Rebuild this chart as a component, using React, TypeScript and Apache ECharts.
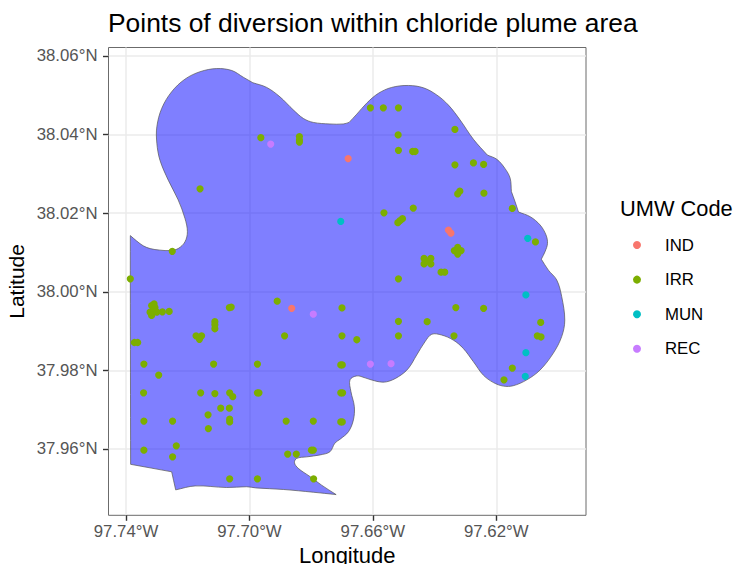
import React, { useEffect, useRef } from "react";
import * as echarts from "echarts";

const titleText = "Points of diversion within chloride plume area";
const xName = "Longitude";
const yName = "Latitude";
const legendTitle = "UMW Code";
const codes = ["IND", "IRR", "MUN", "REC"];
const colors = ["#F8766D", "#7CAE00", "#00BFC4", "#C77CFF"];
const lonTicks = [-97.74, -97.7, -97.66, -97.62];
const latTicks = [37.96, 37.98, 38.0, 38.02, 38.04, 38.06];
const lonRange = [-97.74567, -97.59092];
const latRange = [37.94313, 38.06216];

const plume: number[][] = [
  [-97.7386,38.0143],[-97.7386,38.0143],[-97.7365,38.0129],[-97.7344,38.0117],[-97.7322,38.011],[-97.729,38.0106],[-97.7257,38.0105],[-97.7231,38.011],[-97.7209,38.0127],[-97.7201,38.0153],[-97.7209,38.0187],[-97.7231,38.0234],[-97.7263,38.0284],[-97.729,38.0335],[-97.73,38.0378],[-97.73,38.042],[-97.7284,38.0467],[-97.7252,38.0509],[-97.7209,38.0541],[-97.716,38.056],[-97.7106,38.0568],[-97.7057,38.0563],[-97.702,38.0546],[-97.6989,38.0532],[-97.6989,38.0532],[-97.6944,38.052],[-97.6901,38.0496],[-97.6858,38.0463],[-97.6825,38.0441],[-97.6793,38.0431],[-97.6739,38.0427],[-97.6696,38.0427],[-97.6677,38.0431],[-97.6677,38.0431],[-97.6652,38.0452],[-97.662,38.048],[-97.6582,38.0505],[-97.6539,38.052],[-97.6485,38.0525],[-97.6436,38.0519],[-97.6393,38.0501],[-97.6355,38.0475],[-97.6317,38.0437],[-97.6274,38.0388],[-97.6229,38.0348],[-97.6229,38.0348],[-97.6198,38.0337],[-97.6172,38.0314],[-97.6155,38.0289],[-97.6151,38.0255],[-97.6151,38.0255],[-97.6139,38.0229],[-97.6128,38.0203],[-97.6128,38.0203],[-97.609,38.0191],[-97.6058,38.017],[-97.6039,38.0145],[-97.6034,38.0123],[-97.6042,38.0102],[-97.6054,38.0083],[-97.6054,38.0083],[-97.6031,38.0055],[-97.6004,38.003],[-97.5988,37.9988],[-97.5978,37.9928],[-97.5988,37.9886],[-97.6015,37.9844],[-97.6058,37.9801],[-97.6101,37.9776],[-97.6145,37.9761],[-97.6177,37.976],[-97.6209,37.9769],[-97.6242,37.9788],[-97.6274,37.9822],[-97.6307,37.9856],[-97.6339,37.9877],[-97.6377,37.989],[-97.6409,37.9892],[-97.6431,37.9873],[-97.6458,37.9839],[-97.6485,37.9805],[-97.6517,37.9784],[-97.6555,37.9771],[-97.6587,37.9772],[-97.6625,37.9781],[-97.6652,37.9786],[-97.6674,37.9776],[-97.6671,37.9746],[-97.666,37.9708],[-97.6663,37.9674],[-97.6679,37.9644],[-97.6706,37.9625],[-97.6723,37.9615],[-97.6739,37.9593],[-97.6771,37.9585],[-97.6814,37.958],[-97.6847,37.9576],[-97.6854,37.9565],[-97.6842,37.9551],[-97.6804,37.953],[-97.6766,37.9508],[-97.6719,37.9484],[-97.6719,37.9484],[-97.6793,37.949],[-97.689,37.9497],[-97.6979,37.9501],[-97.7009,37.9504],[-97.7074,37.9502],[-97.7176,37.9506],[-97.7239,37.9496],[-97.7239,37.9496],[-97.7252,37.9542],[-97.7252,37.9542],[-97.7385,37.9561],[-97.7385,37.9561],[-97.7386,38.003],[-97.7386,38.0127],[-97.7386,38.0143],
];

const ind: number[][] = [[-97.668,38.0339],[-97.6355,38.0157],[-97.6347,38.0149],[-97.6863,37.9958]];
const mun: number[][] = [[-97.6704,38.0179],[-97.6098,38.0136],[-97.6104,37.9992],[-97.6104,37.9845],[-97.6106,37.9785]];
const rec: number[][] = [[-97.6931,38.0376],[-97.6793,37.9943],[-97.6608,37.9816],[-97.6541,37.9817]];
const irr: number[][] = [
  [-97.7386,38.0033],[-97.725,38.0103],[-97.716,38.0262],[-97.6963,38.0392],[-97.6838,38.0395],[-97.6838,38.0386],[-97.6838,38.0381],[-97.6608,38.0468],[-97.6566,38.0468],[-97.6517,38.0468],[-97.6518,38.0399],[-97.6334,38.0413],[-97.6517,38.036],[-97.6471,38.0357],[-97.6463,38.0357],[-97.6334,38.0323],[-97.6274,38.0328],[-97.6241,38.0324],[-97.6318,38.0256],[-97.6325,38.0249],[-97.624,38.0251],[-97.6148,38.0212],[-97.6469,38.0213],[-97.6564,38.0201],[-97.6504,38.0186],[-97.6512,38.0181],[-97.6519,38.0176],[-97.6073,38.0127],[-97.6325,38.0113],[-97.6336,38.0105],[-97.6314,38.0105],[-97.6325,38.0096],[-97.6434,38.0085],[-97.6412,38.0085],[-97.6434,38.0071],[-97.6412,38.0071],[-97.6423,38.0078],[-97.6379,38.005],[-97.6367,38.005],[-97.6517,38.0033],
  [-97.7309,37.9969],[-97.7317,37.9965],[-97.7306,37.996],[-97.7322,37.9948],[-97.7313,37.9948],[-97.7317,37.994],[-97.73,37.9948],[-97.7282,37.9949],[-97.726,37.995],[-97.7065,37.996],[-97.7059,37.9961],[-97.691,37.9976],[-97.67,37.9959],[-97.7112,37.9924],[-97.7112,37.9916],[-97.7112,37.9906],[-97.7173,37.9888],[-97.7155,37.9888],[-97.7162,37.9879],[-97.7373,37.9871],[-97.7362,37.9871],[-97.6886,37.9888],[-97.67,37.9888],[-97.7342,37.9816],[-97.7116,37.9816],[-97.6974,37.9816],[-97.6704,37.9814],[-97.6699,37.9814],[-97.7294,37.9788],[-97.7343,37.9743],[-97.7158,37.9743],[-97.7112,37.9741],[-97.7064,37.9743],[-97.7054,37.9733],[-97.6974,37.9743],[-97.6969,37.9743],[-97.6704,37.9743],[-97.6698,37.9743],[-97.7093,37.9704],[-97.7065,37.9704],[-97.7134,37.9687],[-97.7342,37.9671],[-97.7249,37.9671],[-97.7064,37.9676],[-97.7064,37.9669],[-97.6881,37.9671],[-97.6793,37.9671],[-97.6704,37.9669],[-97.6699,37.9669],[-97.7133,37.9652],[-97.7237,37.9608],[-97.7342,37.9597],[-97.7249,37.958],[-97.6876,37.9587],[-97.6848,37.9587],[-97.6799,37.9597],[-97.6793,37.9597],[-97.7064,37.9524],[-97.6974,37.9524],[-97.6792,37.9524],
  [-97.6331,37.996],[-97.6241,37.9958],[-97.6517,37.9925],[-97.6424,37.9924],[-97.6056,37.9922],[-97.6517,37.9888],[-97.6337,37.9888],[-97.6067,37.9888],[-97.6055,37.9885],[-97.6652,37.9878],[-97.6148,37.9806],[-97.6175,37.9776],
];
const groups = [ind, irr, mun, rec];

const FONT = "'Liberation Sans', Arial, sans-serif";

export default function App() {
  const ref = useRef<HTMLDivElement>(null);
  useEffect(() => {
    document.body.style.margin = "0";
    const chart = echarts.init(ref.current!, undefined, { renderer: "svg" });
    chart.setOption({
      animation: false,
      backgroundColor: "#fff",
      textStyle: { fontFamily: FONT },
      title: [
        { text: titleText, left: 103, top: 5, textStyle: { fontFamily: FONT, fontSize: 26.4, fontWeight: "normal", color: "#000" } },
        { text: legendTitle, left: 615, top: 192, textStyle: { fontFamily: FONT, fontSize: 21.8, fontWeight: "normal", color: "#000" } },
      ],
      grid: { left: 108.5, top: 47.5, width: 477.5, height: 467.8, show: true, borderColor: "#6b6b6b", borderWidth: 1, backgroundColor: "transparent", outerBoundsMode: "none" },
      xAxis: {
        type: "value",
        min: lonRange[0],
        max: lonRange[1],
        name: xName,
        nameLocation: "middle",
        nameGap: 29,
        nameMoveOverlap: false,
        nameTextStyle: { fontFamily: FONT, fontSize: 22, color: "#000" },
        axisLine: { show: false },
        axisTick: { show: true, length: 5.5, customValues: lonTicks, lineStyle: { color: "#333", width: 1.4 } },
        axisLabel: { customValues: lonTicks, margin: 8, fontFamily: FONT, fontSize: 16.8, color: "#555", formatter: (v: number) => Math.abs(v).toFixed(2) + "°W" },
        splitLine: { show: true, lineStyle: { color: "#EBEBEB", width: 1.5 } },
      },
      yAxis: {
        type: "value",
        min: latRange[0],
        max: latRange[1],
        name: yName,
        nameLocation: "middle",
        nameGap: 82,
        nameMoveOverlap: false,
        nameTextStyle: { fontFamily: FONT, fontSize: 21, color: "#000" },
        axisLine: { show: false },
        axisTick: { show: true, length: 5.5, customValues: latTicks, lineStyle: { color: "#333", width: 1.4 } },
        axisLabel: { customValues: latTicks, margin: 11, fontFamily: FONT, fontSize: 16.8, color: "#555", formatter: (v: number) => v.toFixed(2) + "°N" },
        splitLine: { show: true, lineStyle: { color: "#EBEBEB", width: 1.5 } },
      },
      legend: {
        data: codes,
        orient: "vertical",
        left: 633,
        top: 231,
        itemWidth: 46,
        itemHeight: 8,
        itemGap: 16.6,
        padding: [5, 0, 5, 0],
        icon: "circle",
        textStyle: { fontFamily: FONT, fontSize: 16.8, color: "#000", lineHeight: 18 },
      },
      series: [
        {
          type: "custom",
          name: "plume",
          silent: true,
          coordinateSystem: "cartesian2d",
          data: [plume[0]],
          z: 1,
          renderItem: (_p: any, api: any) => ({
            type: "polygon",
            shape: { points: plume.map((p) => api.coord(p)), smooth: 0.35 },
            style: { fill: "rgba(0,0,255,0.5)", stroke: "#555", lineWidth: 0.7 },
          }),
        },
        ...codes.map((c, i) => ({
          type: "scatter",
          name: c,
          data: groups[i],
          symbol: "circle",
          symbolSize: 7.2,
          z: 2,
          itemStyle: { color: colors[i], opacity: 1 },
        })),
      ],
    });
    return () => chart.dispose();
  }, []);
  return <div ref={ref} style={{ width: 733, height: 564 }} />;
}
